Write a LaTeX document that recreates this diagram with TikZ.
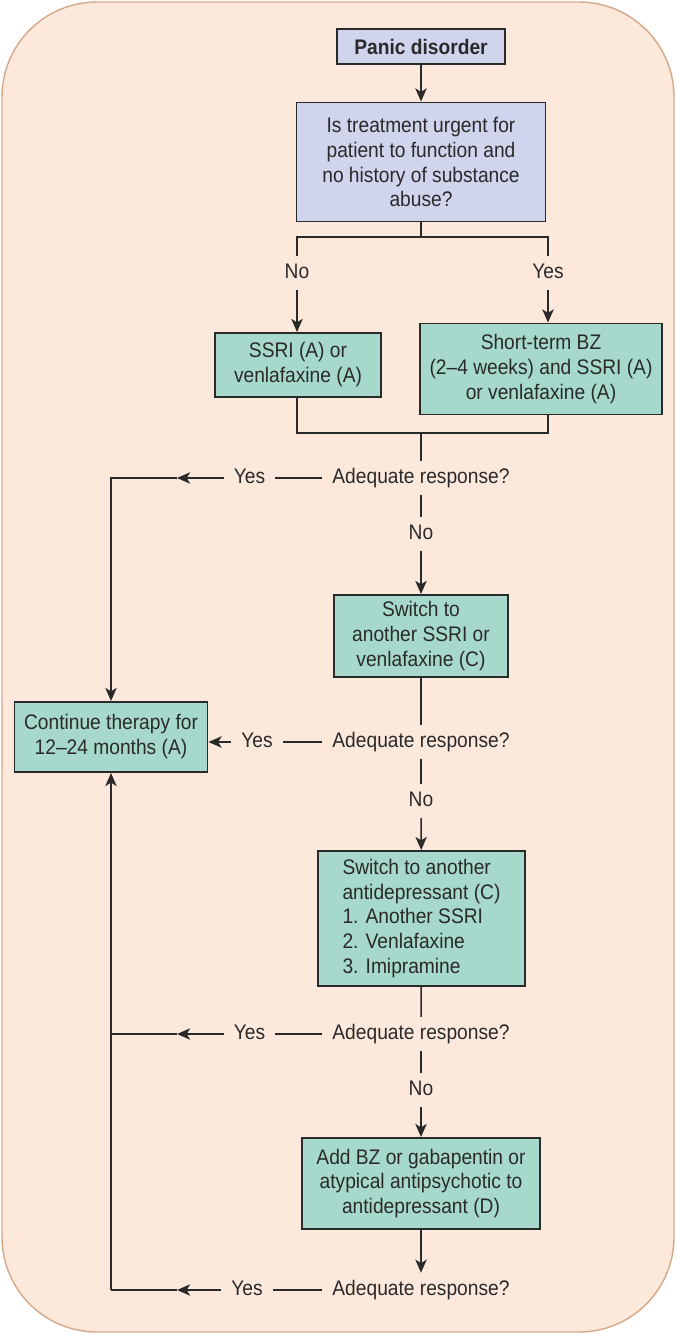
\documentclass[tikz,border=0pt]{standalone}
\usepackage{fontspec}
\setmainfont{Liberation Sans}[FakeStretch=0.91]
\usetikzlibrary{arrows.meta, positioning, calc}
\definecolor{bgpeach}{HTML}{FDE9DC}
\definecolor{bgedge}{HTML}{D6A787}
\definecolor{boxteal}{HTML}{A6D9CC}
\definecolor{boxlav}{HTML}{D0D4EC}
\definecolor{ink}{HTML}{2A2A2A}

\begin{document}
\begin{tikzpicture}[box/.style={rectangle, draw=ink, line width=1.1pt, fill=boxteal,
  font=\fontsize{12}{14.2}\selectfont, align=center, inner sep=2pt, text=ink},
  qbox/.style={box, fill=boxlav},
  lbl/.style={font=\fontsize{12}{14.2}\selectfont, text=ink, inner xsep=5.5pt,
  inner ysep=4pt, text height=8.6pt, text depth=2.6pt},
  conn/.style={draw=ink, line width=0.9pt},
  arr/.style={conn, -{Stealth[length=7.5pt, width=6.5pt, inset=2pt]}}]
  \draw[fill=bgpeach, draw=bgedge, line width=0.8pt, rounded corners=1.9cm]
    (0.04,-0.04) rectangle (13.48,-26.64);
  \useasboundingbox (0,0) rectangle (13.52,-26.7);

  \node[qbox, font=\bfseries\fontsize{12}{14.2}\selectfont, minimum width=3.36cm,
    minimum height=0.70cm] (pd) at (8.42,-0.93) {Panic disorder};
  \node[qbox, minimum width=4.98cm, minimum height=2.38cm] (urg) at (8.42,-3.24)
    {Is treatment urgent for\\patient to function and\\no history of substance\\abuse?};
  \node[lbl] (no0) at (5.94,-5.46) {No};
  \node[lbl] (yes0) at (10.96,-5.46) {Yes};
  \node[box, minimum width=3.32cm, minimum height=1.28cm] (ssri) at (5.96,-7.30)
    {SSRI (A) or\\venlafaxine (A)};
  \node[box, minimum width=4.84cm, minimum height=1.82cm] (stbz) at (10.82,-7.38)
    {Short-term BZ\\(2--4 weeks) and SSRI (A)\\or venlafaxine (A)};
  \node[lbl] (ad1) at (8.42,-9.56) {Adequate response?};
  \node[lbl] (yes1) at (4.99,-9.56) {Yes};
  \node[lbl] (no1) at (8.42,-10.68) {No};
  \node[box, minimum width=3.48cm, minimum height=1.64cm] (sw1) at (8.42,-12.72)
    {Switch to\\another SSRI or\\venlafaxine (C)};
  \node[box, minimum width=3.86cm, minimum height=1.40cm] (cont) at (2.22,-14.74)
    {Continue therapy for\\12--24 months (A)};
  \node[lbl] (ad2) at (8.42,-14.84) {Adequate response?};
  \node[lbl] (yes2) at (5.14,-14.84) {Yes};
  \node[lbl] (no2) at (8.42,-16.02) {No};
  \node[box, align=left, minimum width=4.14cm, minimum height=2.70cm] (sw2) at (8.43,-18.37)
    {Switch to another\\antidepressant (C)\\1. Another SSRI\\2. Venlafaxine\\3. Imipramine};
  \node[lbl] (ad3) at (8.42,-20.68) {Adequate response?};
  \node[lbl] (yes3) at (4.99,-20.68) {Yes};
  \node[lbl] (no3) at (8.42,-21.80) {No};
  \node[box, minimum width=4.76cm, minimum height=1.82cm] (addbz) at (8.42,-23.67)
    {Add BZ or gabapentin or\\atypical antipsychotic to\\antidepressant (D)};
  \node[lbl] (ad4) at (8.42,-25.80) {Adequate response?};
  \node[lbl] (yes4) at (4.94,-25.80) {Yes};

  \coordinate (j1) at (8.42,-4.74);
  \coordinate (j2) at (8.42,-8.66);
  \coordinate (m1) at (3.54,-9.56);
  \coordinate (m3) at (3.54,-20.68);
  \coordinate (m4) at (3.54,-25.80);
  \coordinate (c4) at (2.22,-25.80);

  \draw[arr] (pd) -- (urg);
  \draw[conn] (urg) -- (j1);
  \draw[conn] (no0) |- (j1) -| (yes0);
  \draw[arr] (no0) -- (no0 |- ssri.north);
  \draw[arr] (yes0) -- (yes0 |- stbz.north);
  \draw[conn] (no0 |- ssri.south) |- (j2) -| (yes0 |- stbz.south);
  \draw[conn] (j2) -- (ad1);
  \draw[conn] (ad1) -- (yes1);
  \draw[arr] (yes1) -- (m1);
  \draw[arr] (m1) -| (cont);
  \draw[conn] (ad1) -- (no1);
  \draw[arr] (no1) -- (sw1);
  \draw[conn] (sw1) -- (ad2);
  \draw[conn] (ad2) -- (yes2);
  \draw[arr] (yes2) -- (yes2 -| cont.east);
  \draw[conn] (ad2) -- (no2);
  \draw[arr] (no2) -- (sw2);
  \draw[conn] (sw2) -- (ad3);
  \draw[conn] (ad3) -- (yes3);
  \draw[arr] (yes3) -- (m3);
  \draw[conn] (m3) -- (m3 -| cont);
  \draw[conn] (ad3) -- (no3);
  \draw[arr] (no3) -- (addbz);
  \draw[arr] (addbz) -- (ad4);
  \draw[conn] (ad4) -- (yes4);
  \draw[arr] (yes4) -- (m4);
  \draw[conn] (m4) -- (c4);
  \draw[arr] (c4) -- (cont);
\end{tikzpicture}
\end{document}
